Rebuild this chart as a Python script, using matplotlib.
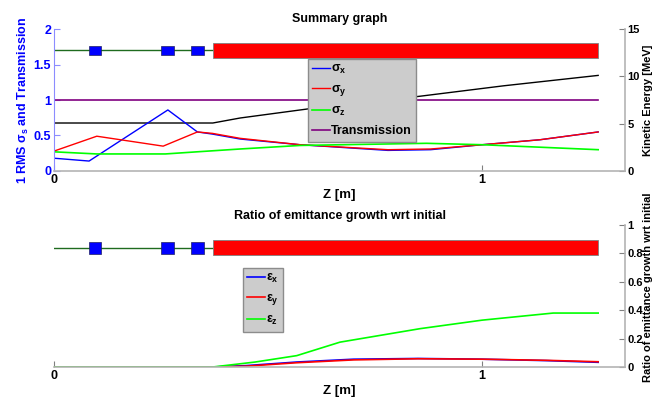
import numpy as np
import matplotlib.pyplot as plt
from matplotlib.patches import Rectangle

plt.rcParams['font.family'] = ['Liberation Sans', 'DejaVu Sans']
plt.rcParams['font.weight'] = 'bold'
plt.rcParams['font.size'] = 9
plt.rcParams['axes.labelweight'] = 'bold'
plt.rcParams['axes.titleweight'] = 'bold'
plt.rcParams['mathtext.fontset'] = 'custom'
plt.rcParams['mathtext.rm'] = 'Liberation Sans:bold'
plt.rcParams['mathtext.it'] = 'Liberation Sans:bold'
plt.rcParams['mathtext.bf'] = 'Liberation Sans:bold'

# beamline layout
quad_z = [0.096, 0.266, 0.336]
quad_len = 0.03
cav_start = 0.371
cav_end = 1.271

# summary graph: rms sizes
z_x = [0, 0.082, 0.266, 0.335, 0.37, 0.435, 0.575, 0.78, 0.88, 1.0, 1.135, 1.271]
sig_x = [0.18, 0.14, 0.86, 0.55, 0.52, 0.45, 0.37, 0.29, 0.30, 0.37, 0.44, 0.55]
z_y = [0, 0.10, 0.255, 0.335, 0.37, 0.435, 0.575, 0.78, 0.88, 1.0, 1.135, 1.271]
sig_y = [0.28, 0.49, 0.35, 0.55, 0.53, 0.46, 0.37, 0.30, 0.31, 0.37, 0.44, 0.55]
z_z = [0, 0.10, 0.26, 0.334, 0.435, 0.575, 0.87, 1.0, 1.271]
sig_z = [0.27, 0.24, 0.24, 0.27, 0.31, 0.36, 0.39, 0.37, 0.30]
z_tr = [0, 1.271]
transmission = [1, 1]
z_ke = [0, 0.371, 0.435, 0.60, 0.855, 1.05, 1.271]
kin_energy = [5.07, 5.07, 5.6, 6.6, 7.9, 9.0, 10.1]

# emittance growth
z_e = [0, 0.371, 0.45, 0.567, 0.70, 0.85, 1.0, 1.15, 1.271]
eps_x = [0, 0, 0.01, 0.035, 0.055, 0.06, 0.055, 0.045, 0.033]
eps_y = [0, 0, 0.006, 0.03, 0.05, 0.058, 0.055, 0.047, 0.037]
z_ez = [0, 0.371, 0.47, 0.567, 0.668, 0.855, 1.0, 1.166, 1.271]
eps_z = [0, 0, 0.035, 0.08, 0.175, 0.27, 0.33, 0.38, 0.38]

grey = '#b4b4b4'
line_c = '#1f6b1f'


def draw_beamline(ax, yc, hq, hc0, hc1):
    ax.plot([0, cav_start], [yc, yc], color=line_c, lw=1, zorder=1)
    for q in quad_z:
        ax.add_patch(Rectangle((q - quad_len / 2, yc - hq), quad_len, 2 * hq,
                               facecolor='blue', edgecolor='#202060', lw=0.5, zorder=2))
    ax.add_patch(Rectangle((cav_start, hc0), cav_end - cav_start, hc1 - hc0,
                           facecolor='red', edgecolor='#808080', lw=0.6, zorder=2))


def style_x(ax):
    ax.set_xlim(0, 1.334)
    ax.set_xticks([0, 1])
    ax.set_xticklabels(['0', '1'])
    ax.spines['top'].set_visible(False)
    ax.spines['bottom'].set_color(grey)
    ax.spines['bottom'].set_linewidth(1.2)
    ax.tick_params(axis='x', direction='in', length=4, color='#808080', pad=2)
    ax.set_xlabel('Z [m]', fontsize=9.5, labelpad=2)


def style_right(ax, label, ypos):
    ax.spines['right'].set_color(grey)
    ax.spines['right'].set_linewidth(1.2)
    ax.tick_params(axis='y', direction='in', length=4, color='#808080',
                   pad=1.5, labelsize=8)
    ax.set_ylabel(label, fontsize=8)
    ax.yaxis.set_label_coords(1.0315, ypos)


def grey_legend(ax, x0, y0):
    leg = ax.legend(loc='upper left', bbox_to_anchor=(x0 / 655, 1 - y0 / 401),
                    bbox_transform=fig.transFigure, borderaxespad=0,
                    fontsize=9, handlelength=1.4, handletextpad=0.1,
                    labelspacing=0.55, borderpad=0.35, fancybox=False,
                    framealpha=1, facecolor='#cccccc', edgecolor='#8c8c8c')
    leg.get_frame().set_linewidth(1)
    return leg


fig = plt.figure(figsize=(6.55, 4.01), dpi=100)

# top axes
ax1 = fig.add_axes([0.0824, 0.5736, 0.872, 0.354])
ax1.plot(z_x, sig_x, color='blue', lw=1, label=r'$\sigma_x$')
ax1.plot(z_y, sig_y, color='red', lw=1, label=r'$\sigma_y$')
ax1.plot(z_z, sig_z, color='#00ff00', lw=1.2, label=r'$\sigma_z$')
ax1.plot(z_tr, transmission, color='#800080', lw=1.2, label='Transmission')
draw_beamline(ax1, 1.70, 0.065, 1.59, 1.80)
ax1.set_ylim(0, 2)
ax1.set_yticks([0, 0.5, 1, 1.5, 2])
ax1.set_yticklabels(['0', '0.5', '1', '1.5', '2'], color='blue')
ax1.spines['left'].set_color('#8c8cff')
ax1.spines['right'].set_visible(False)
ax1.tick_params(axis='y', direction='in', length=4, color='#8c8cff', pad=2)
ax1.set_ylabel(r'1 RMS $\sigma_s$ and Transmission', color='blue',
               fontsize=9, labelpad=2)
style_x(ax1)
ax1.set_title('Summary graph', fontsize=9, pad=5)

ax1r = ax1.twinx()
ax1r.plot(z_ke, kin_energy, color='black', lw=1)
ax1r.set_ylim(0, 15)
ax1r.set_yticks([0, 5, 10, 15])
ax1r.spines['top'].set_visible(False)
ax1r.spines['left'].set_visible(False)
ax1r.spines['bottom'].set_visible(False)
style_right(ax1r, 'Kinetic Energy [MeV]', 0.5)
ax1.set_zorder(ax1r.get_zorder() + 1)
ax1.patch.set_visible(False)
grey_legend(ax1, 308, 59)

# bottom axes
ax2 = fig.add_axes([0.0824, 0.0848, 0.872, 0.354])
ax2.plot(z_e, eps_x, color='blue', lw=1.2, label=r'$\varepsilon_x$')
ax2.plot(z_e, eps_y, color='red', lw=1.2, label=r'$\varepsilon_y$')
ax2.plot(z_ez, eps_z, color='#00ff00', lw=1.2, label=r'$\varepsilon_z$')
draw_beamline(ax2, 0.838, 0.04, 0.789, 0.894)
ax2.set_ylim(0, 1)
ax2.yaxis.tick_right()
ax2.yaxis.set_label_position('right')
ax2.set_yticks([0, 0.2, 0.4, 0.6, 0.8, 1])
ax2.set_yticklabels(['0', '0.2', '0.4', '0.6', '0.8', '1'])
ax2.spines['left'].set_visible(False)
style_right(ax2, 'Ratio of emittance growth wrt initial', 0.56)
style_x(ax2)
ax2.set_title('Ratio of emittance growth wrt initial', fontsize=9, pad=4.5)
grey_legend(ax2, 243, 268)

fig.savefig('out.png', dpi=100)
